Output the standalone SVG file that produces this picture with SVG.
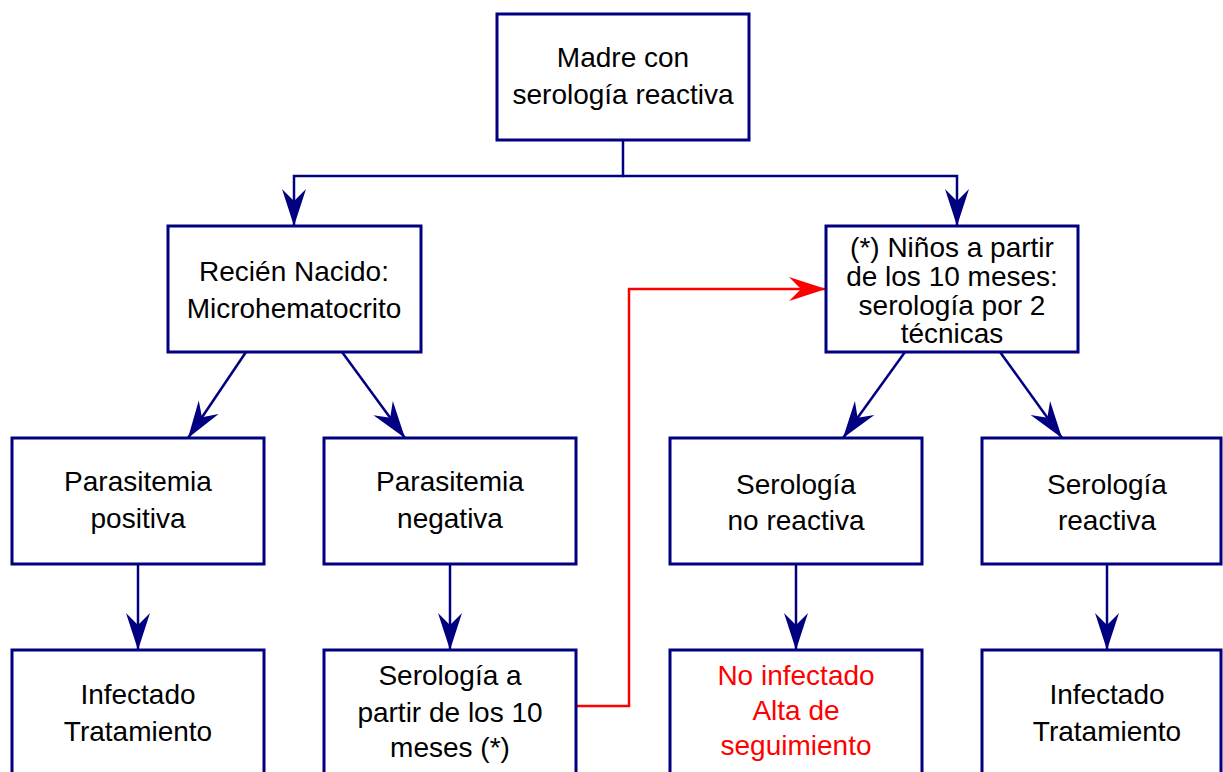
<svg xmlns="http://www.w3.org/2000/svg" width="1223" height="772" viewBox="0 0 1223 772">
<style>
.box{fill:#fff;stroke:#000080;stroke-width:3}
.t{font-family:"Liberation Sans",Arial,sans-serif;font-size:28px;fill:#000;text-anchor:middle}
.red{fill:#ff0000}
.c{fill:none;stroke:#000080;stroke-width:2.5}
.cr{fill:none;stroke:#ff0000;stroke-width:2.5}
</style>
<defs>
<marker id="ah" viewBox="-40 -15 42 30" refX="0" refY="0" markerWidth="42" markerHeight="30" markerUnits="userSpaceOnUse" orient="auto">
<path d="M0,0 L-37,-12 L-25,0 L-37,12 Z" fill="#000080"/>
</marker>
<marker id="ahr" viewBox="-40 -15 42 30" refX="0" refY="0" markerWidth="42" markerHeight="30" markerUnits="userSpaceOnUse" orient="auto">
<path d="M0,0 L-37,-12 L-25,0 L-37,12 Z" fill="#ff0000"/>
</marker>
</defs>
<g id="connectors">
<path class="c" d="M623,140 V176 H294 V226" marker-end="url(#ah)"/>
<path class="c" d="M623,176 H957 V226" marker-end="url(#ah)"/>
<path class="c" d="M246,352 L188,438" marker-end="url(#ah)"/>
<path class="c" d="M342,352 L405,438" marker-end="url(#ah)"/>
<path class="c" d="M905,352 L843,438" marker-end="url(#ah)"/>
<path class="c" d="M1000,352 L1062,438" marker-end="url(#ah)"/>
<path class="c" d="M138,564 V650" marker-end="url(#ah)"/>
<path class="c" d="M450,564 V650" marker-end="url(#ah)"/>
<path class="c" d="M796,564 V650" marker-end="url(#ah)"/>
<path class="c" d="M1107,564 V650" marker-end="url(#ah)"/>
<path class="cr" d="M576,706 H629 V289 H826" marker-end="url(#ahr)"/>
</g>
<g id="madre"><rect class="box" x="497" y="14" width="252" height="126"/>
<text class="t" x="623" y="67">Madre con</text><text class="t" x="623" y="104">serología reactiva</text></g>
<g id="recien"><rect class="box" x="168" y="226" width="253" height="126"/>
<text class="t" x="294" y="281">Recién Nacido:</text><text class="t" x="294" y="318">Microhematocrito</text></g>
<g id="ninos"><rect class="box" x="826" y="226" width="252" height="126"/>
<text class="t" x="952" y="257">(*) Niños a partir</text><text class="t" x="952" y="286">de los 10 meses:</text><text class="t" x="952" y="315">serología por 2</text><text class="t" x="952" y="343">técnicas</text></g>
<g id="parpos"><rect class="box" x="12" y="438" width="252" height="126"/>
<text class="t" x="138" y="491">Parasitemia</text><text class="t" x="138" y="528">positiva</text></g>
<g id="parneg"><rect class="box" x="324" y="438" width="252" height="126"/>
<text class="t" x="450" y="491">Parasitemia</text><text class="t" x="450" y="528">negativa</text></g>
<g id="seronr"><rect class="box" x="670" y="438" width="252" height="126"/>
<text class="t" x="796" y="494">Serología</text><text class="t" x="796" y="530">no reactiva</text></g>
<g id="serore"><rect class="box" x="982" y="438" width="239" height="126"/>
<text class="t" x="1107" y="494">Serología</text><text class="t" x="1107" y="530">reactiva</text></g>
<g id="inf1"><rect class="box" x="12" y="650" width="252" height="130"/>
<text class="t" x="138" y="704">Infectado</text><text class="t" x="138" y="741">Tratamiento</text></g>
<g id="sero10"><rect class="box" x="324" y="650" width="252" height="130"/>
<text class="t" x="450" y="685">Serología a</text><text class="t" x="450" y="722">partir de los 10</text><text class="t" x="450" y="757">meses (*)</text></g>
<g id="noinf"><rect class="box" x="670" y="650" width="252" height="130"/>
<text class="t red" x="796" y="685">No infectado</text><text class="t red" x="796" y="720">Alta de</text><text class="t red" x="796" y="755">seguimiento</text></g>
<g id="inf2"><rect class="box" x="982" y="650" width="239" height="130"/>
<text class="t" x="1107" y="704">Infectado</text><text class="t" x="1107" y="741">Tratamiento</text></g>
</svg>
